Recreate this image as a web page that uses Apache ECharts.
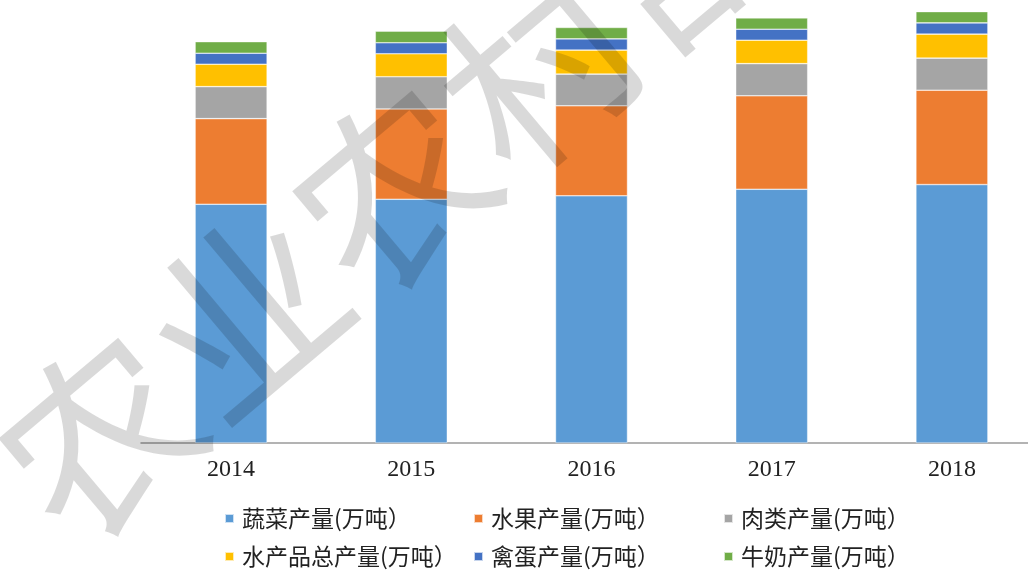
<!DOCTYPE html>
<html>
<head>
<meta charset="utf-8">
<script src="https://cdn.jsdelivr.net/npm/echarts@6/dist/echarts.min.js"></script>
<style>
  html, body { margin: 0; padding: 0; background: #fff; }
  #main { width: 1028px; height: 571px; }
</style>
</head>
<body>
<div id="main"></div>
<script>
/* 数据（万吨） */
var years = ['2014', '2015', '2016', '2017', '2018'];
var vegetables = [76400, 78000, 79100, 81200, 82700];
var fruits = [27400, 28900, 28800, 29900, 30200];
var meat = [10240, 10300, 10150, 10300, 10250];
var aquatic = [7170, 7350, 7680, 7500, 7680];
var eggs = [3520, 3520, 3600, 3520, 3600];
var milk = [3700, 3740, 3650, 3620, 3620];

var seriesNames = ['蔬菜产量(万吨）', '水果产量(万吨）', '肉类产量(万吨）',
                   '水产品总产量(万吨）', '禽蛋产量(万吨）', '牛奶产量(万吨）'];
var seriesData = [vegetables, fruits, meat, aquatic, eggs, milk];
var colors = ['#5B9BD5', '#ED7D31', '#A5A5A5', '#FFC000', '#4472C4', '#70AD47'];

var chart = echarts.init(document.getElementById('main'));

//每个图例单独定位，三列两行
var legendLeft = [224, 473, 723];
var legendTop = [507, 545];
var legends = [];
for (var i = 0; i < seriesNames.length; i++) {
  legends.push({
    data: [seriesNames[i]],
    left: legendLeft[i % 3],
    top: legendTop[Math.floor(i / 3)],
    icon: 'rect',
    itemWidth: 9,
    itemHeight: 9,
    itemGap: 0,
    padding: 0,
    textStyle: {
      fontFamily: 'Noto Sans CJK SC',
      fontSize: 23,
      color: '#222',
      padding: [0, 0, 0, 3]
    }
  });
}

var series = [];
for (var j = 0; j < seriesNames.length; j++) {
  series.push({
    name: seriesNames[j],
    type: 'bar',
    stack: 'total',
    barWidth: 72,
    itemStyle: {
      color: colors[j],
      borderColor: 'rgba(255,255,255,0.7)',
      borderWidth: 0.6
    },
    data: seriesData[j]
  });
}

var option = {
  backgroundColor: '#fff',
  animation: false,
  color: colors,
  legend: legends,
  grid: {
    left: 141,
    top: 3,
    width: 901,
    height: 440,
    outerBoundsMode: 'none',
    containLabel: false
  },
  xAxis: {
    type: 'category',
    data: years,
    axisLine: { lineStyle: { color: '#9a9a9a', width: 1.5 } },
    axisTick: { show: false },
    axisLabel: {
      fontFamily: 'Liberation Serif',
      fontSize: 24,
      color: '#222',
      margin: 15
    }
  },
  yAxis: {
    type: 'value',
    min: 0,
    max: 140800,
    show: false,
    splitLine: { show: false }
  },
  // 水印
  graphic: [{
    type: 'text',
    x: 393,
    y: 190,
    rotation: 0.70,
    z: 100,
    silent: true,
    style: {
      text: '农业农村部',
      fontFamily: 'Noto Sans CJK SC',
      fontSize: 192,
      fontWeight: 'normal',
      fill: 'rgba(0,0,0,0.15)',
      align: 'center',
      verticalAlign: 'middle'
    }
  }],
  series: series
};
chart.setOption(option);
</script>
</body>
</html>
